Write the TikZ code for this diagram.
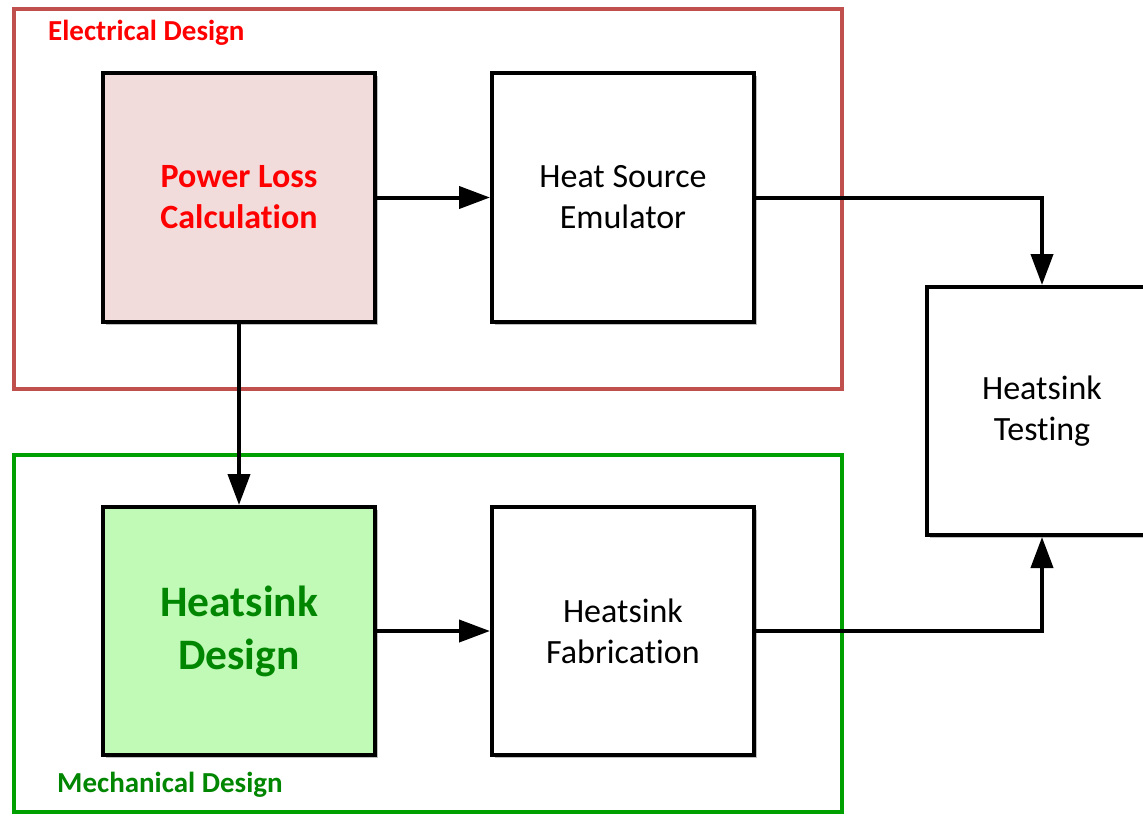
\documentclass[tikz,border=0pt]{standalone}
\usepackage{fontspec}
\setmainfont{Carlito}[Ligatures=NoCommon]
\usetikzlibrary{arrows.meta,shadows}
\definecolor{elecframe}{RGB}{192,80,77}
\definecolor{elecfill}{RGB}{242,220,219}
\definecolor{electext}{RGB}{255,0,0}
\definecolor{mechframe}{RGB}{0,160,0}
\definecolor{mechfill}{RGB}{192,250,182}
\definecolor{mechtext}{RGB}{0,134,0}
\tikzset{
  block/.style={draw=black, line width=4pt, fill=white, rectangle,
    minimum width=#1, minimum height=249pt, inner sep=0pt, align=center,
    drop shadow={shadow xshift=2.5pt, shadow yshift=-2.5pt, opacity=0.25, fill=black}},
  block/.default=262pt,
  frame/.style={line width=3.2pt},
  flow/.style={line width=4pt, -{Triangle[width=22pt,length=31pt]}},
  plain/.style={font=\fontsize{34}{41}\selectfont, text=black},
  grouplabel/.style={anchor=west, inner sep=0pt, font=\fontsize{29}{32}\selectfont\bfseries}
}
\begin{document}
\begin{tikzpicture}[x=1pt, y=-1pt]
\useasboundingbox (0,0) rectangle (1143,815);
\clip (0,0) rectangle (1143,815);
\fill[white] (0,0) rectangle (1143,815);

% group frames
\draw[frame, draw=elecframe] (14,9) rectangle (842,389);
\draw[frame, draw=mechframe] (14,455) rectangle (842,812);
\node[grouplabel, text=electext] (elabel) at (48,33) {Electrical Design};
\node[grouplabel, text=mechtext] (mlabel) at (57,785) {Mechanical Design};

% blocks
\node[block=272pt, fill=elecfill, text=electext,
      font=\fontsize{34}{41}\selectfont\bfseries] (ploss) at (239,197.5) {Power Loss\\Calculation};
\node[block, plain] (hsrc) at (623,197.5) {Heat Source\\Emulator};
\node[block=272pt, fill=mechfill, text=mechtext, minimum height=248pt,
      font=\fontsize{43.5}{53}\selectfont\bfseries] (hdes) at (239,631) {Heatsink\\Design};
\node[block, plain, minimum height=248pt] (hfab) at (623,631) {Heatsink\\Fabrication};
\node[block=230pt, plain, minimum height=248pt] (htest) at (1042,411) {Heatsink\\Testing};

% connectors
\draw[flow] (ploss.east) -- (hsrc.west);
\draw[flow] (ploss.south) -- (hdes.north);
\draw[flow] (hdes.east) -- (hfab.west);
\draw[flow] (hsrc.east) -| (htest.north);
\draw[flow] (hfab.east) -| (htest.south);
\end{tikzpicture}
\end{document}
